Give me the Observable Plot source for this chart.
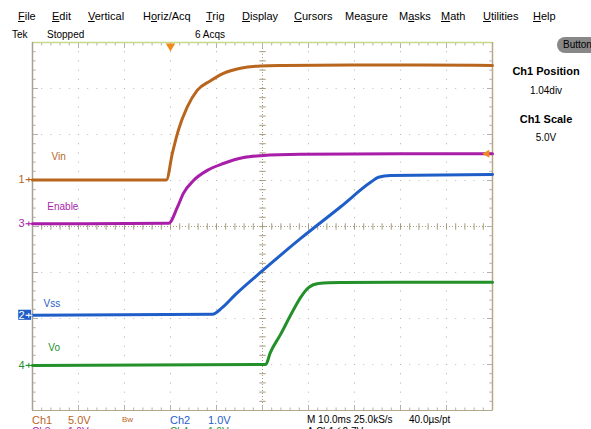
<!DOCTYPE html>
<html><head><meta charset="utf-8">
<script src="https://cdn.jsdelivr.net/npm/d3@7"></script>
<script src="https://cdn.jsdelivr.net/npm/@observablehq/plot@0.6"></script>
<style>
html,body{margin:0;padding:0;background:#fff;overflow:hidden;}
#wrap{position:relative;width:591px;height:429px;overflow:hidden;font-family:"Liberation Sans",Arial,sans-serif;}
.t{position:absolute;white-space:nowrap;font-size:11px;color:#000;line-height:1;}
#plot{position:absolute;left:0;top:0;}
</style></head>
<body><div id="wrap"><div id="plot"></div></div>
<script>
// ---- data (screen divisions: x 0..10, y 0..8) ----
const menuItems = ["<u>F</u>ile","<u>E</u>dit","<u>V</u>ertical","H<u>o</u>riz/Acq","<u>T</u>rig","<u>D</u>isplay","<u>C</u>ursors","Mea<u>s</u>ure","M<u>a</u>sks","<u>M</u>ath","<u>U</u>tilities","<u>H</u>elp"];
const channelNames = ["Vin","Vss","Enable","Vo"];      // Ch1, Ch2, Ch3, Ch4
const channelColors = ["#b8651e","#1f5ec8","#a81ea8","#23902a"];
const channelOffsets = [5.02, 2.07, 4.06, 0.98];       // ground markers (div)
const ch1X = [0, 2.91, 3.04, 3.17, 3.36, 3.58, 3.87, 4.15, 4.52, 4.96, 5.46, 6.91, 8.43, 10];
const ch1Y = [5.01, 5.01, 5.59, 6.09, 6.59, 6.96, 7.17, 7.33, 7.44, 7.49, 7.50, 7.51, 7.51, 7.50];
const ch3X = [0, 2.96, 3.15, 3.28, 3.50, 3.80, 4.15, 4.59, 4.96, 5.83, 8.0, 10];
const ch3Y = [4.06, 4.07, 4.42, 4.72, 5.00, 5.22, 5.37, 5.50, 5.54, 5.57, 5.58, 5.58];
const ch2X = [0, 3.91, 4.13, 4.41, 5.00, 5.83, 6.70, 7.35, 7.52, 7.78, 10];
const ch2Y = [2.07, 2.09, 2.24, 2.52, 3.04, 3.74, 4.43, 4.96, 5.07, 5.11, 5.13];
const ch4X = [0, 5.07, 5.17, 5.39, 5.61, 5.83, 6.00, 6.22, 6.70, 8.43, 10];
const ch4Y = [0.98, 1.00, 1.26, 1.65, 2.07, 2.46, 2.67, 2.76, 2.78, 2.79, 2.79];
const triggerPos = 3.0;      // div
const triggerLevel = 5.58;   // div
const bottomRow1 = [["Ch1","#b8651e"],["5.0V","#b8651e"],["Bw","#b8651e"],["Ch2","#1f5ec8"],["1.0V","#1f5ec8"],["M 10.0ms 25.0kS/s","#000"],["40.0µs/pt","#000"]];
const bottomRow2 = [["Ch3","#a81ea8"],["1.0V","#a81ea8"],["","#000"],["Ch4","#23902a"],["1.0V","#23902a"],["A  Ch1  ∫  2.7V","#000"],["","#000"]];

// ---- HTML text around the screen ----
const wrap = document.getElementById("wrap");
function addText(txt, x, y, css={}) {
  const d = document.createElement("div");
  d.className = "t"; d.innerHTML = txt;
  d.style.left = x + "px"; d.style.top = y + "px";
  Object.assign(d.style, css);
  wrap.appendChild(d);
  return d;
}
const menuX = [18,52,88,143,206,242,294,345,399,441,483,533];
menuItems.forEach((m,i)=>addText(m, menuX[i], 11));
addText("Tek", 12, 30, {fontSize:"10px"});
addText("Stopped", 47, 30, {fontSize:"10px"});
addText("6 Acqs", 195, 30, {fontSize:"10px"});
addText("Buttons", 557, 37, {background:"#888",borderRadius:"8px",padding:"3px 6px",fontSize:"10px",color:"#000"});
addText("Ch1 Position", 509, 66, {fontWeight:"bold",fontSize:"11px",width:"74px",textAlign:"center"});
addText("1.04div", 509, 86, {fontSize:"10px",width:"74px",textAlign:"center"});
addText("Ch1 Scale", 509, 114, {fontWeight:"bold",fontSize:"11px",width:"74px",textAlign:"center"});
addText("5.0V", 509, 133, {fontSize:"10px",width:"74px",textAlign:"center"});
const botX = [32,68,122,170,208,307,409];
bottomRow1.forEach(([s,c],i)=>addText(s, botX[i], 415, {color:c, fontSize: i===2 ? "8px" : (i>=5 ? "10px" : "11px"), top: i===2 ? "416px" : "415px"}));
bottomRow2.forEach(([s,c],i)=>addText(s, botX[i], 427, {color:c, fontSize:"10px"}));

// ---- graticule ----
const minorX = d3.range(0, 51).map(i => i/5);
const minorY = d3.range(0, 41).map(i => i/5);
const gridDots = [];
for (let gx = 1; gx <= 9; gx++) if (gx !== 5) minorY.forEach(y => gridDots.push({x: gx, y}));
for (let gy = 1; gy <= 7; gy++) if (gy !== 4) minorX.forEach(x => gridDots.push({x, y: gy}));
const tl = 0.065;
const isMajor = d => Math.abs(d - Math.round(d)) < 1e-6;

function series(xs, ys){ return xs.map((x,i)=>({x, y: ys[i]})); }
const traces = [
  {data: series(ch1X, ch1Y), c: channelColors[0]},
  {data: series(ch3X, ch3Y), c: channelColors[2]},
  {data: series(ch2X, ch2Y), c: channelColors[1]},
  {data: series(ch4X, ch4Y), c: channelColors[3]},
];
const markers = channelOffsets.map((o,i)=>({ch: String(i+1), y: o, c: channelColors[i]}));
const labelPos = [{x:0.57,y:5.52},{x:0.42,y:2.33},{x:0.66,y:4.43},{x:0.47,y:1.37}];
const labels = channelNames.map((n,i)=>({n, c: channelColors[i], ...labelPos[i]}));

const plot = Plot.plot({
  width: 591, height: 429,
  marginLeft: 32, marginRight: 99, marginTop: 42, marginBottom: 19,
  x: {domain: [0, 10], axis: null},
  y: {domain: [0, 8], axis: null},
  style: {background: "transparent", fontFamily: "'Liberation Sans', Arial, sans-serif"},
  marks: [
    Plot.dot(gridDots, {x: "x", y: "y", r: 0.6, fill: "#b4b4b4", stroke: null}),
    // center crosshair
    Plot.ruleX([5], {stroke: "#a89c80", strokeDasharray: "1,2"}),
    Plot.ruleY([4], {stroke: "#a89c80", strokeDasharray: "1,2"}),
    Plot.link(minorY, {x1: 5 - 0.07, x2: 5 + 0.07, y1: d => d, y2: d => d, stroke: "#a89c80"}),
    Plot.link(minorX, {x1: d => d, x2: d => d, y1: 4 - 0.07, y2: 4 + 0.07, stroke: "#a89c80"}),
    // border ticks
    Plot.link(minorX, {x1: d => d, x2: d => d, y1: 8, y2: d => 8 - (isMajor(d) ? 0.12 : tl), stroke: "#b0b0b0"}),
    Plot.link(minorX, {x1: d => d, x2: d => d, y1: 0, y2: d => (isMajor(d) ? 0.12 : tl), stroke: "#b0b0b0"}),
    Plot.link(minorY, {y1: d => d, y2: d => d, x1: 0, x2: d => (isMajor(d) ? 0.12 : 0.07), stroke: "#b0b0b0"}),
    Plot.link(minorY, {y1: d => d, y2: d => d, x1: 10, x2: d => 10 - (isMajor(d) ? 0.12 : 0.07), stroke: "#b0b0b0"}),
    // frame
    Plot.ruleY([8], {stroke: "#c6da8a", strokeWidth: 1.5}),
    Plot.ruleY([0], {stroke: "#b4a88c"}),
    Plot.ruleX([0], {stroke: "#a8a090", strokeWidth: 1.5}),
    Plot.ruleX([10], {stroke: "#b8a888", strokeWidth: 1.5}),
    // traces
    ...traces.map(t => Plot.line(t.data, {x: "x", y: "y", stroke: t.c, strokeWidth: 3, curve: "monotone-x", strokeLinejoin: "round"})),
    // labels in screen
    Plot.text(labels, {x: "x", y: "y", text: "n", fill: "c", fontSize: 10}),
    // ground markers
    Plot.rect(markers.filter(m => m.ch === "2"), {x1: -0.3, x2: -0.02, y1: d => d.y - 0.11, y2: d => d.y + 0.11, fill: "#1f5ec8"}),
    Plot.text(markers, {x: -0.17, y: "y", text: "ch", fill: d => d.ch === "2" ? "#fff" : d.c, fontSize: 11, textAnchor: "end"}),
    Plot.link(markers, {x1: -0.15, x2: 0, y1: "y", y2: "y", stroke: d => d.ch === "2" ? "#fff" : d.c, strokeWidth: 1.2}),
    Plot.link(markers, {x1: -0.08, x2: -0.08, y1: d => d.y - 0.05, y2: d => d.y + 0.05, stroke: d => d.ch === "2" ? "#fff" : d.c}),
    // trigger markers
    Plot.dot([triggerPos], {x: d => d, y: 7.92, symbol: "triangle", rotate: 180, r: 3.5, fill: "#f08a1a", stroke: null}),
    Plot.dot([triggerLevel], {x: 9.88, y: d => d, symbol: "triangle", rotate: -90, r: 3, fill: "#f08a1a", stroke: null}),
  ]
});
document.getElementById("plot").appendChild(plot);
</script>
</body></html>
